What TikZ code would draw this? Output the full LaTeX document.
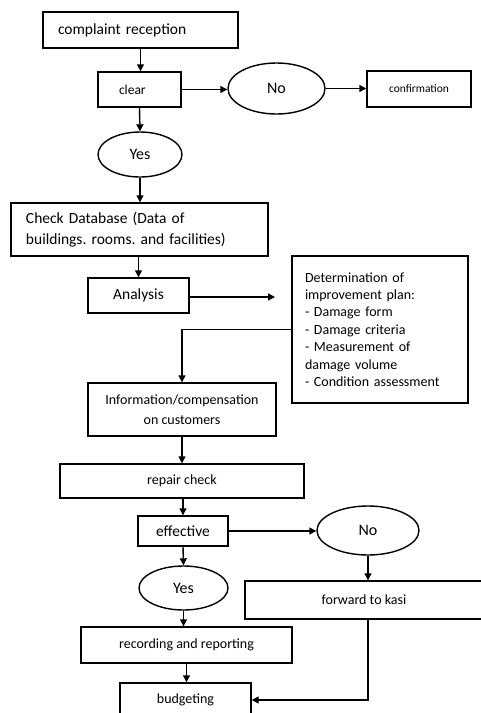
\documentclass[tikz,border=0pt]{standalone}
\usepackage{fontspec}
\setmainfont{Carlito}
\usetikzlibrary{arrows.meta,shapes.geometric}
\frenchspacing

\begin{document}
\begin{tikzpicture}[x=1pt,y=-1pt,line width=1.4pt,box/.style={shape=rectangle,draw=black,inner sep=0pt,align=center},boxL/.style={box,align=left},oval/.style={shape=ellipse,draw=black,inner sep=0pt,font=\fontsize{16}{19}\selectfont},arr/.style={-{Triangle[length=7pt,width=7pt]}}]
\def\fbig{\fontsize{15.5}{21}\selectfont}
\def\fmid{\fontsize{14}{20}\selectfont}

\useasboundingbox (0,0) rectangle (481,713);
\clip (0,0) rectangle (481,713);

\node[boxL,font=\fbig,text width=165pt,inner xsep=15pt,minimum height=36pt] (rec) at (140.5,30) {complaint reception};

\node[boxL,font=\fontsize{13.5}{16}\selectfont,text width=41pt,inner xsep=21pt,minimum height=35pt] (clear) at (139.5,89.5) {clear};
\draw[arr] (rec.south) -- (rec.south |- clear.north);
\node[oval,minimum width=97pt,minimum height=51pt] (noA) at (276.5,88.5) {No};
\draw[arr] (clear.east) -- (clear.east -| noA.west);
\node[box,font=\fontsize{11.5}{14}\selectfont,minimum width=104pt,minimum height=36pt] (conf) at (419,89) {confirmation};
\draw[arr] (noA.east) -- (noA.east -| conf.west);

\node[oval,minimum width=84pt,minimum height=45pt] (yesA) at (140,154.5) {Yes};
\draw[arr] (clear.south) -- (yesA.north);

\node[boxL,font=\fbig,text width=227pt,inner xsep=15pt,minimum height=53pt] (db) at (139.5,229.5) {Check Database (Data of\\buildings. rooms. and facilities)};
\draw[arr] (yesA.south) -- (yesA.south |- db.north);

\node[box,font=\fbig,minimum width=101pt,minimum height=35pt] (ana) at (138.5,295.5) {Analysis};
\draw[arr] (ana.north |- db.south) -- (ana.north);
\coordinate (anaEnd) at (275,297);
\draw[arr] (ana.east |- anaEnd) -- (anaEnd);

\node[boxL,font=\fontsize{14}{17.4}\selectfont,text width=150pt,inner xsep=13pt,minimum height=147pt] (det) at (380,329.5) {Determination of\\improvement plan:\\- Damage form\\- Damage criteria\\- Measurement of\\damage volume\\- Condition assessment};

\node[box,font=\fmid,minimum width=188pt,minimum height=53pt] (info) at (182,409.5) {Information/compensation\\on customers};
\draw[arr] (det.west) -| (info.north);

\node[box,font=\fmid,minimum width=244pt,minimum height=34pt] (rep) at (182,481) {repair check};
\draw[arr] (info.south) -- (rep.north);

\node[box,font=\fbig,minimum width=90pt,minimum height=30pt] (eff) at (183,531) {effective};
\draw[arr] (rep.south -| eff.north) -- (eff.north);
\node[oval,minimum width=102pt,minimum height=49pt] (noB) at (368,530.5) {No};
\draw[arr] (eff.east) -- (eff.east -| noB.west);

\node[box,font=\fmid,minimum width=238pt,minimum height=38pt] (fwd) at (364,600) {forward to kasi};
\draw[arr] (noB.south) -- (noB.south |- fwd.north);

\node[oval,minimum width=89pt,minimum height=44pt] (yesB) at (183.5,588) {Yes};
\draw[arr] (eff.south) -- (yesB.north);

\node[box,font=\fmid,minimum width=211pt,minimum height=36pt] (rcd) at (186.5,645) {recording and reporting};
\draw[arr] (yesB.south) -- (yesB.south |- rcd.north);

\node[box,font=\fmid,minimum width=131pt,minimum height=34pt] (bud) at (185.5,700) {budgeting};
\draw[arr] (rcd.south) -- (rcd.south |- bud.north);
\draw[arr] (noB.south |- fwd.south) |- (bud.east);
\end{tikzpicture}
\end{document}
